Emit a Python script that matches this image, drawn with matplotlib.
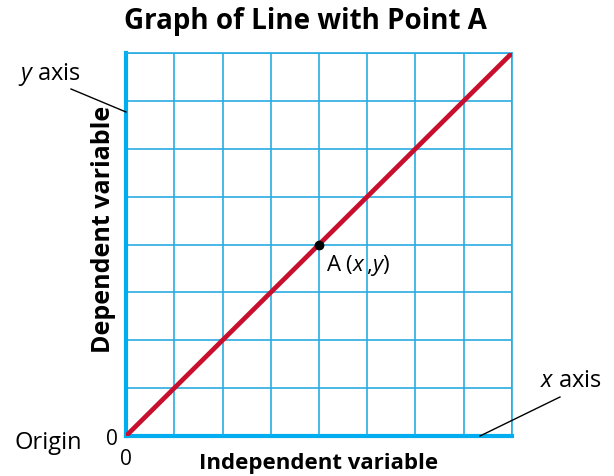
import matplotlib
matplotlib.use("Agg")
import matplotlib.pyplot as plt

# Data
line_x = [0, 8]
line_y = [0, 8]
point_x = [4]
point_y = [4]
grid_ticks = list(range(0, 9))
tick_labels = ["0"] + [""] * 8

plt.rcParams['font.family'] = ['Open Sans', 'DejaVu Sans']
plt.rcParams['mathtext.fontset'] = 'custom'
plt.rcParams['mathtext.rm'] = 'Open Sans'
plt.rcParams['mathtext.it'] = 'Open Sans:italic'

GRID = "#29ABE2"
AXIS = "#00AEEF"
LINE = "#C8102E"

fig = plt.figure(figsize=(6.14, 4.77), dpi=100)
ax = fig.add_axes([126/614, 1-437/477, (512-126)/614, (437-54)/477])

ax.set_xlim(0, 8)
ax.set_ylim(0, 8)
ax.set_xticks(grid_ticks)
ax.set_yticks(grid_ticks)
ax.set_xticklabels(tick_labels, fontsize=15)
ax.set_yticklabels(tick_labels, fontsize=15)
ax.tick_params(axis="x", length=0, pad=9)
ax.tick_params(axis="y", length=0, pad=6)
ax.grid(True, color=GRID, linewidth=1.2)
ax.set_axisbelow(True)

for side in ["top", "right"]:
    ax.spines[side].set_color(GRID)
    ax.spines[side].set_linewidth(1.2)
for side in ["left", "bottom"]:
    ax.spines[side].set_color(AXIS)
    ax.spines[side].set_linewidth(3)

ax.plot(line_x, line_y, color=LINE, linewidth=3.4, solid_capstyle="round", zorder=3)
ax.plot(point_x, point_y, "o", color="black", markersize=6, zorder=4)
ax.text(point_x[0] + 0.15, point_y[0] - 0.15, r"A ($x$$\,$,$y$)", fontsize=16,
        ha="left", va="top", zorder=5)

fig.text(305/614, 1-22/477, "Graph of Line with Point A", fontsize=20, fontweight="bold",
         ha="center", va="center")
fig.text(104/614, 1-229/477, "Dependent variable", fontsize=18, fontweight="bold",
         ha="center", va="center", rotation=90)
fig.text(319/614, 1-464/477, "Independent variable", fontsize=16, fontweight="bold",
         ha="center", va="center")

fig.text(48/614, 1-443/477, "Origin", fontsize=17, ha="center", va="center")
fig.text(49/614, 1-75/477, r"$y$ axis", fontsize=17, ha="center", va="center")
fig.text(571/614, 1-381/477, r"$x$ axis", fontsize=17, ha="center", va="center")

fig.add_artist(plt.Line2D([71/614, 126/614], [1-90/477, 1-113/477], color="black", linewidth=1))
fig.add_artist(plt.Line2D([560/614, 480/614], [1-398/477, 1-437/477], color="black", linewidth=1))

fig.savefig("out.png", dpi=100)
